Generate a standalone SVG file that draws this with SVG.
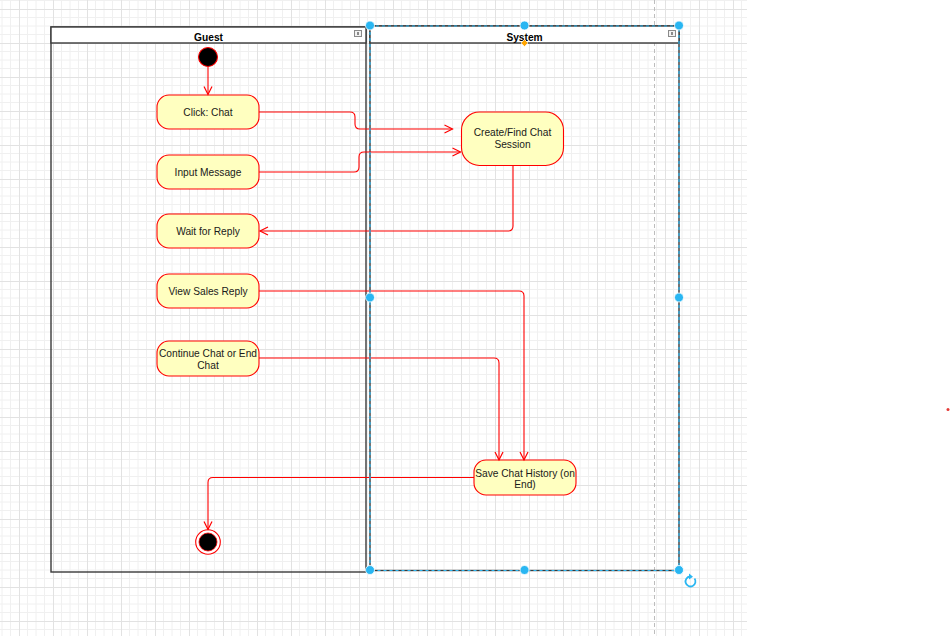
<svg xmlns="http://www.w3.org/2000/svg" width="952" height="636" viewBox="0 0 952 636">
<defs>
<pattern id="grid" patternUnits="userSpaceOnUse" x="19" y="9" width="34" height="34">
<path d="M8.5,0V34M17,0V34M25.5,0V34M0,8.5H34M0,17H34M0,25.5H34" stroke="#f0f0f0" stroke-width="1" fill="none"/>
<path d="M0.5,0V34M0,0.5H34" stroke="#e2e2e2" stroke-width="1" fill="none"/>
</pattern>
<marker id="arr" markerUnits="userSpaceOnUse" markerWidth="12" markerHeight="12" refX="9" refY="5" orient="auto" viewBox="0 0 12 10">
<path d="M1,1 L9,5 L1,9" fill="none" stroke="#ff0000" stroke-width="1.2"/>
</marker>
<style>
.lane{fill:none;stroke:#3a3a3a;stroke-width:1.4}
.hdr{fill:#ffffff;stroke:#3a3a3a;stroke-width:1.4}
.title{font-family:"Liberation Sans",Arial,sans-serif;font-size:10.2px;font-weight:bold;fill:#000;text-anchor:middle}
.act{fill:#ffffc0;stroke:#ff0000;stroke-width:1.1}
.lbl{font-family:"Liberation Sans",Arial,sans-serif;font-size:10.2px;fill:#1a1a1a;text-anchor:middle}
.edge{fill:none;stroke:#ff0000;stroke-width:1.1;marker-end:url(#arr)}
.sel{fill:none;stroke:#29b6f2;stroke-width:1.2;stroke-dasharray:3 3}
.hnd{fill:#29b6f2;stroke:#ffffff;stroke-width:0.8}
.ico{fill:#f2f2f2;stroke:#8a8a8a;stroke-width:1}
</style>
</defs>
<rect x="0" y="0" width="952" height="636" fill="#ffffff"/>
<rect x="0" y="0" width="747" height="636" fill="url(#grid)"/>
<line x1="654.5" y1="0" x2="654.5" y2="636" stroke="#bdbdbd" stroke-width="1" stroke-dasharray="4 3"/>

<g id="lane-guest">
<rect class="lane" x="51" y="27" width="315" height="545"/>
<rect class="hdr" x="51" y="27" width="315" height="16"/>
<text class="title" x="208.5" y="40.5">Guest</text>
<rect class="ico" x="354.5" y="30.5" width="7" height="6"/>
<rect x="357" y="32" width="2" height="3" fill="#8a8a8a"/>
</g>

<g id="lane-system">
<rect class="lane" x="370" y="26" width="309" height="544.5"/>
<rect class="hdr" x="370" y="26" width="309" height="17"/>
<text class="title" x="524.5" y="40.5">System</text>
<rect class="ico" x="668.5" y="30.5" width="7" height="6"/>
<rect x="671" y="32" width="2" height="3" fill="#8a8a8a"/>
</g>

<g id="start">
<circle cx="208" cy="57" r="9.5" fill="#000000" stroke="#ff0000" stroke-width="1.1"/>
</g>

<g id="click-chat">
<rect class="act" x="157" y="95" width="102" height="34" rx="12"/>
<text class="lbl" x="208" y="116">Click: Chat</text>
</g>

<g id="input-message">
<rect class="act" x="157" y="155" width="102" height="34" rx="12"/>
<text class="lbl" x="208" y="176">Input Message</text>
</g>

<g id="wait-reply">
<rect class="act" x="157" y="214" width="102" height="34" rx="12"/>
<text class="lbl" x="208" y="235">Wait for Reply</text>
</g>

<g id="view-reply">
<rect class="act" x="157" y="274" width="102" height="34" rx="12"/>
<text class="lbl" x="208" y="295">View Sales Reply</text>
</g>

<g id="continue-end">
<rect class="act" x="157" y="341" width="102" height="35" rx="12"/>
<text class="lbl" x="208" y="357">Continue Chat or End</text>
<text class="lbl" x="208" y="368.5">Chat</text>
</g>

<g id="create-session">
<rect class="act" x="461.5" y="112" width="102" height="53.5" rx="18"/>
<text class="lbl" x="512.5" y="136">Create/Find Chat</text>
<text class="lbl" x="512.5" y="148">Session</text>
</g>

<g id="save-history">
<rect class="act" x="474" y="460" width="102" height="35" rx="12"/>
<text class="lbl" x="525" y="477">Save Chat History (on</text>
<text class="lbl" x="525" y="488">End)</text>
</g>

<g id="end">
<circle cx="208" cy="542" r="12.3" fill="#ffffff" stroke="#ff0000" stroke-width="1.1"/>
<circle cx="208" cy="542" r="9" fill="#000000" stroke="#ff0000" stroke-width="0.8"/>
</g>

<g id="connectors">
<path class="edge" d="M208,66.5V94.5"/>
<path class="edge" d="M259,112H350Q355,112 355,117V124Q355,129 360,129H452.5"/>
<path class="edge" d="M259,172H354Q359,172 359,167V157Q359,152 364,152H460.5"/>
<path class="edge" d="M513,165.5V226Q513,231 508,231H260"/>
<path class="edge" d="M259,291H519Q524,291 524,296V460"/>
<path class="edge" d="M259,358H494Q499,358 499,363V460"/>
<path class="edge" d="M474,477.5H213Q208,477.5 208,482.5V529.5"/>
</g>

<g id="selection">
<rect class="sel" x="370" y="26" width="309" height="544.5"/>
<circle class="hnd" cx="370" cy="25.5" r="4.5"/>
<circle class="hnd" cx="524.5" cy="25.5" r="4.5"/>
<circle class="hnd" cx="679" cy="25.5" r="4.5"/>
<circle class="hnd" cx="370" cy="297.5" r="4.5"/>
<circle class="hnd" cx="679" cy="297.5" r="4.5"/>
<circle class="hnd" cx="370" cy="570" r="4.5"/>
<circle class="hnd" cx="524.5" cy="570" r="4.5"/>
<circle class="hnd" cx="679" cy="570" r="4.5"/>
<path d="M524.5,39.5L528,43L524.5,46.5L521,43Z" fill="#ffa500" stroke="#ffffff" stroke-width="0.6"/>
<path d="M694.5,578.5A5,5 0 1 1 690,576.5" fill="none" stroke="#29b6f2" stroke-width="1.8"/>
<path d="M689,573.5L693,576.8L689,579.5Z" fill="#29b6f2"/>
</g>

<circle cx="948" cy="409.5" r="1.5" fill="#e53935"/>
</svg>
